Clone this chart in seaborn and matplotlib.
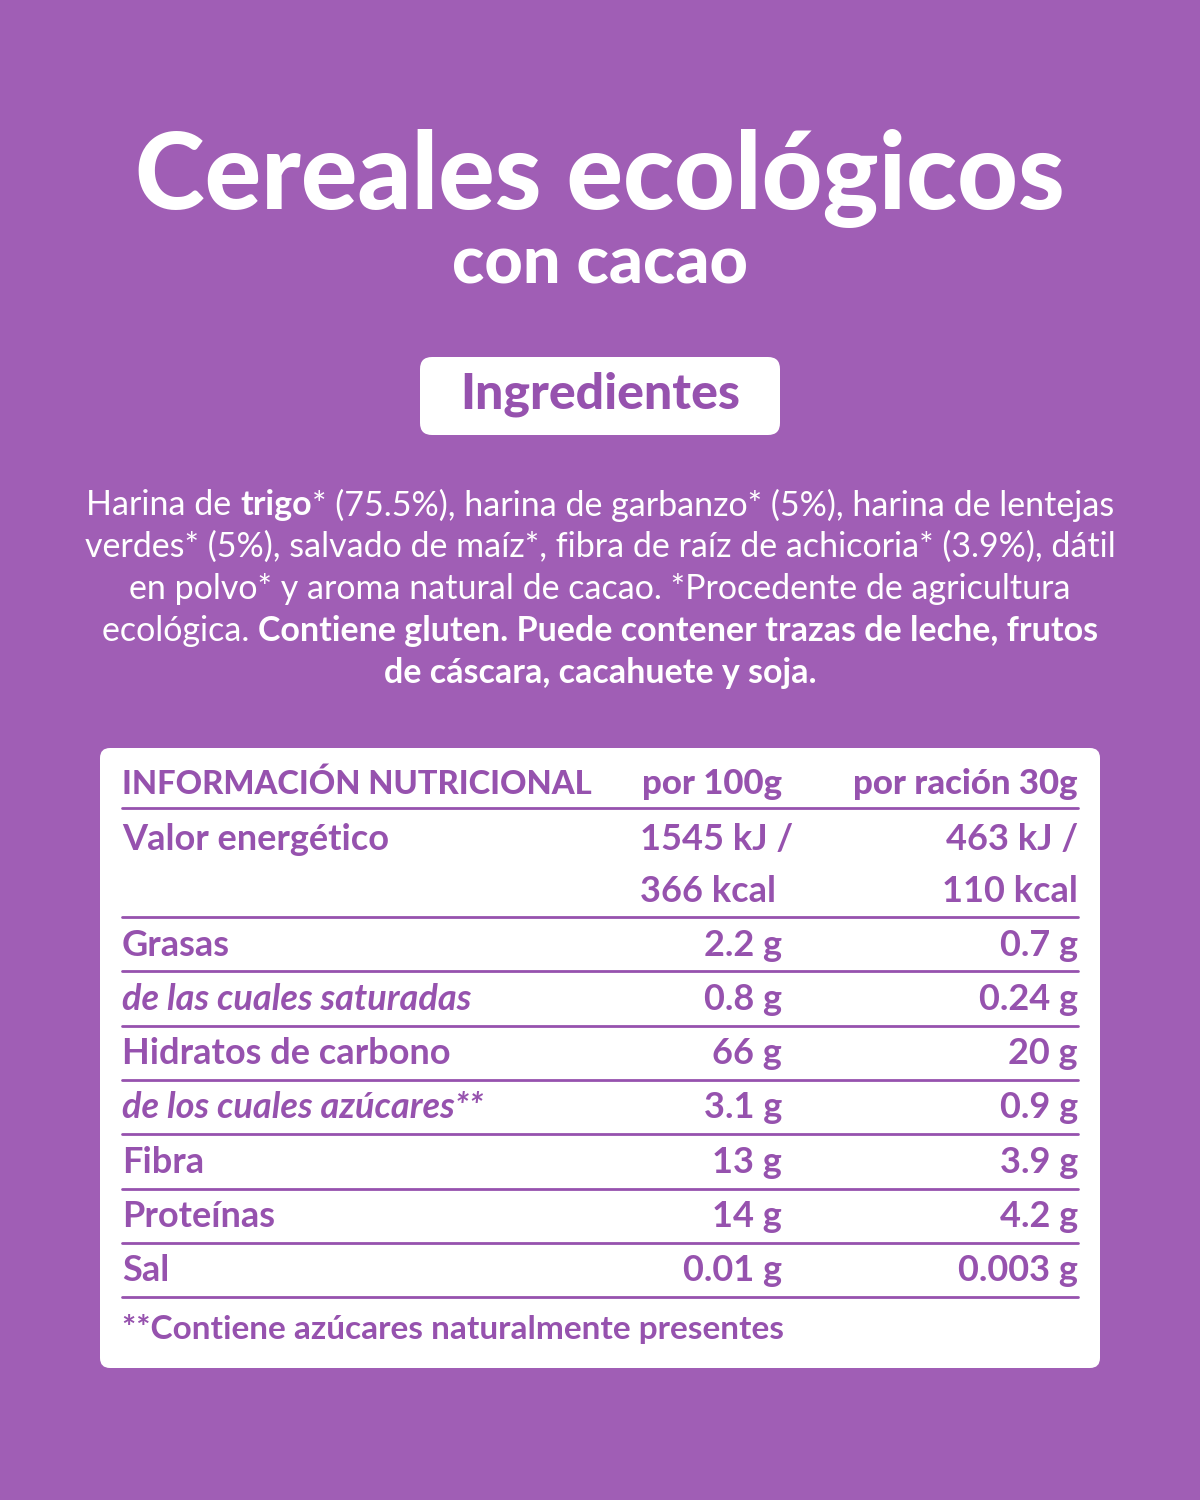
import matplotlib
matplotlib.use("Agg")
import matplotlib.pyplot as plt
import seaborn as sns
from matplotlib.patches import FancyBboxPatch

sns.set_theme(style="white")
plt.rcParams['font.family'] = ['Lato', 'DejaVu Sans']

BG = "#A05EB5"
PURPLE = "#9652AE"

title = "Cereales ecológicos"
subtitle = "con cacao"
section = "Ingredientes"
header = ["INFORMACIÓN NUTRICIONAL", "por 100g", "por ración 30g"]
nutrients = ["Grasas", "de las cuales saturadas", "Hidratos de carbono",
             "de los cuales azúcares**", "Fibra", "Proteínas", "Sal"]
italic_rows = [False, True, False, True, False, False, False]
per100 = ["2.2 g", "0.8 g", "66 g", "3.1 g", "13 g", "14 g", "0.01 g"]
per30 = ["0.7 g", "0.24 g", "20 g", "0.9 g", "3.9 g", "4.2 g", "0.003 g"]
energy = ["Valor energético", "1545 kJ /", "366 kcal", "463 kJ /", "110 kcal"]
footnote = "**Contiene azúcares naturalmente presentes"
ingredient_lines = [
    [("Harina de ", "normal"), ("trigo", "bold"), ("* (75.5%), harina de garbanzo* (5%), harina de lentejas", "normal")],
    [("verdes* (5%), salvado de maíz*, fibra de raíz de achicoria* (3.9%), dátil", "normal")],
    [("en polvo* y aroma natural de cacao. *Procedente de agricultura", "normal")],
    [("ecológica. ", "normal"), ("Contiene gluten. Puede contener trazas de leche, frutos", "bold")],
    [("de cáscara, cacahuete y soja.", "bold")],
]

fig = plt.figure(figsize=(12, 15), dpi=100, facecolor=BG)
ax = fig.add_axes([0, 0, 1, 1])
ax.set_xlim(0, 1200); ax.set_ylim(1500, 0); ax.axis("off")
ax.set_facecolor(BG)

ax.text(600, 178, title, ha="center", va="center", color="white", fontsize=76, fontweight="black")
ax.text(600, 265, subtitle, ha="center", va="center", color="white", fontsize=48, fontweight="black")

ax.add_patch(FancyBboxPatch((420, 357), 360, 78, boxstyle="round,pad=0,rounding_size=12",
                            fc="white", ec="none"))
ax.text(600, 394, section, ha="center", va="center", color=PURPLE, fontsize=36, fontweight="black")

r = fig.canvas.get_renderer()
fs = 24.5
for i, segs in enumerate(ingredient_lines):
    y = 505 + 42 * i
    widths = []
    for s, w in segs:
        t = ax.text(0, 0, s, fontsize=fs, fontweight=w)
        widths.append(t.get_window_extent(r).width)
        t.remove()
    x = 600 - sum(widths) / 2
    for (s, w), wd in zip(segs, widths):
        ax.text(x, y, s, fontsize=fs, fontweight=w, color="white", ha="left", va="center")
        x += wd

ax.add_patch(FancyBboxPatch((100, 748), 1000, 620, boxstyle="round,pad=0,rounding_size=10",
                            fc="white", ec="none"))
L, C1, C2 = 122, 782, 1078
tfs = 26
ax.text(L, 784, header[0], fontsize=23.5, fontweight="black", color=PURPLE, va="center")
ax.text(C1, 784, header[1], fontsize=25, fontweight="black", color=PURPLE, va="center", ha="right")
ax.text(C2, 784, header[2], fontsize=25, fontweight="black", color=PURPLE, va="center", ha="right")
lines_y = [808, 917] + [917 + 54.3 * (k + 1) for k in range(7)]
for ly in lines_y:
    ax.plot([L, C2], [ly, ly], color=PURPLE, lw=2)
ax.text(L, 840, energy[0], fontsize=tfs, fontweight="bold", color=PURPLE, va="center")
ax.text(640, 840, energy[1], fontsize=tfs, fontweight="bold", color=PURPLE, va="center")
ax.text(640, 891, energy[2], fontsize=tfs, fontweight="bold", color=PURPLE, va="center")
ax.text(C2, 840, energy[3], fontsize=tfs, fontweight="bold", color=PURPLE, va="center", ha="right")
ax.text(C2, 891, energy[4], fontsize=tfs, fontweight="bold", color=PURPLE, va="center", ha="right")
for k, (n, it, a, b) in enumerate(zip(nutrients, italic_rows, per100, per30)):
    y = 945 + 54.3 * k
    st = "italic" if it else "normal"
    ax.text(L, y, n, fontsize=tfs, fontweight="bold", style=st, color=PURPLE, va="center")
    ax.text(C1, y, a, fontsize=tfs, fontweight="bold", color=PURPLE, va="center", ha="right")
    ax.text(C2, y, b, fontsize=tfs, fontweight="bold", color=PURPLE, va="center", ha="right")
ax.text(L, 1329, footnote, fontsize=24, fontweight="bold", color=PURPLE, va="center")

fig.savefig("out.png", dpi=100, facecolor=BG)
